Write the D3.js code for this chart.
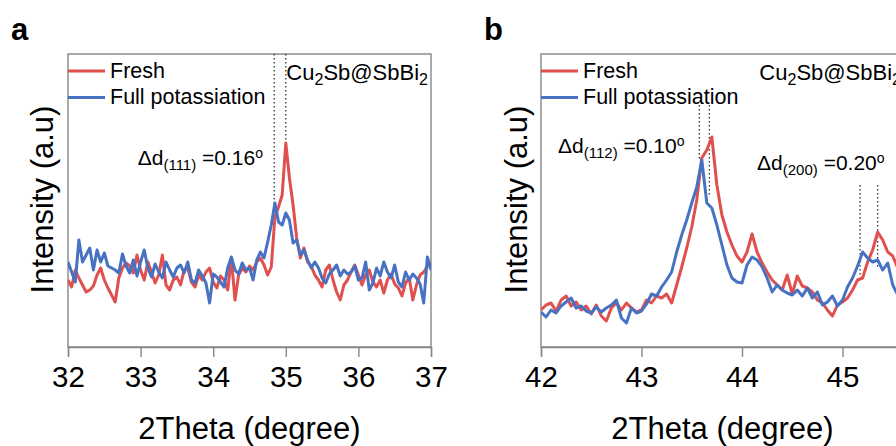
<!DOCTYPE html>
<html>
<head>
<meta charset="utf-8">
<script src="https://cdn.jsdelivr.net/npm/d3@7"></script>
<style>
  body { margin: 0; background: #fff; }
  svg { display: block; font-family: "Liberation Sans", Arial, sans-serif; }
</style>
</head>
<body>
<div id="chart"></div>
<script>
// 2Theta scans, sampled every 0.05 degree
const stepDeg = 0.05;

// panel a: 32 - 37 degree
const startA = 32;
const freshA = [
    67, 60, 77, 69, 62, 55, 57, 61, 72, 79,
    67, 59, 52, 45, 69, 79, 84, 81, 74, 92,
    77, 67, 85, 75, 64, 72, 92, 62, 57, 67,
    70, 62, 77, 79, 65, 60, 72, 67, 75, 79,
    65, 59, 71, 67, 57, 89, 47, 72, 79, 75,
    81, 77, 85, 89, 82, 72, 80, 130, 140, 152,
    204, 169, 142, 109, 89, 99, 85, 81, 72, 67,
    60, 77, 82, 67, 55, 47, 62, 67, 75, 82,
    72, 62, 72, 77, 65, 60, 67, 54, 67, 73,
    63, 59, 51, 64, 69, 47, 62, 72, 75, 81,
    85];
const fullA = [
    85, 75, 65, 107, 85, 92, 99, 77, 97, 85,
    94, 81, 79, 77, 74, 93, 81, 74, 87, 71,
    85, 97, 79, 70, 83, 75, 69, 85, 77, 70,
    79, 82, 74, 85, 67, 64, 77, 71, 64, 44,
    73, 70, 65, 60, 79, 90, 77, 73, 84, 77,
    79, 67, 87, 95, 89, 105, 122, 144, 125, 122,
    134, 127, 104, 107, 92, 97, 87, 79, 85, 79,
    69, 64, 73, 77, 82, 71, 77, 73, 75, 81,
    67, 69, 85, 57, 64, 79, 71, 85, 75, 69,
    82, 65, 60, 75, 67, 73, 69, 63, 44, 90,
    77];

// panel b: 42 - 45.6 degree
const startB = 42;
const freshB = [
    37, 42, 44, 36, 47, 51, 41, 45, 37, 41,
    33, 42, 31, 26, 39, 44, 37, 44, 39, 35,
    37, 47, 44, 51, 49, 53, 44, 62, 80, 99,
    120, 147, 189, 197, 210, 162, 132, 115, 102, 91,
    85, 95, 113, 95, 84, 75, 67, 62, 57, 72,
    53, 71, 61, 59, 55, 47, 44, 37, 31, 42,
    45, 49, 57, 67, 69, 85, 97, 115, 107, 95,
    91, 79, 72];
const fullB = [
    35, 30, 37, 34, 41, 45, 49, 39, 41, 36,
    34, 40, 35, 39, 42, 47, 29, 24, 39, 34,
    36, 43, 53, 51, 60, 67, 75, 95, 112, 127,
    144, 160, 187, 144, 139, 122, 102, 82, 69, 65,
    64, 82, 90, 87, 80, 69, 55, 62, 57, 54,
    52, 57, 51, 59, 49, 55, 42, 45, 51, 41,
    47, 60, 69, 81, 95, 89, 85, 87, 77, 84,
    62, 52, 57];

const ticksA = [32, 33, 34, 35, 36, 37];
const ticksB = [42, 43, 44, 45];
const seriesNames = ["Fresh", "Full potassiation"];

// dotted peak markers: theta, from/to intensity
const markersA = [
    {theta: 34.84, from: 293, to: 144},
    {theta: 35.00, from: 293, to: 204}];
const markersB = [
    {theta: 43.575, from: 242, to: 187},
    {theta: 43.675, from: 242, to: 150},
    {theta: 45.175, from: 162, to: 70},
    {theta: 45.35, from: 162, to: 80}];

// shift labels: hkl, value, theta/intensity of label start
const shiftsA = [{hkl: "(111)", value: "0.16", theta: 32.96, y: 182}];
const shiftsB = [
    {hkl: "(112)", value: "0.10", theta: 42.17, y: 194},
    {hkl: "(200)", value: "0.20", theta: 44.15, y: 177}];

const red = "#e0504f", blue = "#4772c3", frameColor = "#868686";

const svg = d3.select("#chart").append("svg")
    .attr("width", 896)
    .attr("height", 446);

const toPoints = (start, vals) => vals.map((v, i) => [start + i * stepDeg, v]);

function drawPanel(p) {
    let width = 363, height = 293;
    let g = svg.append("g").attr("transform", "translate(" + p.left + "," + p.top + ")");

    let x = d3.scaleLinear().domain(p.xDomain).range([0, width]);
    let y = d3.scaleLinear().domain([0, 293]).range([height, 0]);

    g.append("clipPath").attr("id", "clip" + p.id)
        .append("rect").attr("width", width).attr("height", height);

    // frame
    g.append("rect")
        .attr("width", width).attr("height", height)
        .attr("fill", "none")
        .attr("stroke", frameColor)
        .attr("stroke-width", 1.4);

    // bottom axis
    let ax = g.append("g")
        .attr("transform", "translate(0," + height + ")")
        .call(d3.axisBottom(x).tickValues(p.ticks).tickSize(10).tickPadding(9).tickFormat(d3.format("d")));
    ax.select(".domain").attr("stroke", frameColor).attr("stroke-width", 1.4);
    ax.selectAll(".tick line").attr("stroke", frameColor).attr("stroke-width", 1.4);
    ax.selectAll(".tick text")
        .attr("fill", "#000")
        .style("font-size", "29.5px")
        .style("font-family", "Liberation Sans, Arial, sans-serif");

    // axis titles
    g.append("text")
        .attr("x", width / 2).attr("y", 385)
        .attr("text-anchor", "middle")
        .style("font-size", "31px")
        .text("2Theta (degree)");
    g.append("text")
        .attr("transform", "translate(" + p.yTitleX + "," + (height / 2 - 1) + ") rotate(-90)")
        .attr("text-anchor", "middle")
        .style("font-size", "31px")
        .text("Intensity (a.u)");

    // panel letter
    svg.append("text")
        .attr("x", p.letterX).attr("y", 40)
        .style("font-size", "31px").style("font-weight", "bold")
        .text(p.letter);

    // dotted markers
    g.selectAll(".marker")
        .data(p.markers)
        .enter().append("line")
        .attr("x1", d => x(d.theta)).attr("x2", d => x(d.theta))
        .attr("y1", d => y(d.from)).attr("y2", d => y(d.to))
        .attr("stroke", "#222")
        .attr("stroke-width", 1.2)
        .attr("stroke-dasharray", "1.5,2.5");

    // curves
    let line = d3.line().x(d => x(d[0])).y(d => y(d[1]));
    let curves = g.append("g").attr("clip-path", "url(#clip" + p.id + ")");
    [[p.fresh, red], [p.full, blue]].forEach(([vals, c]) => {
        curves.append("path")
            .datum(toPoints(p.xDomain[0], vals))
            .attr("d", line)
            .attr("fill", "none")
            .attr("stroke", c)
            .attr("stroke-width", 3)
            .attr("stroke-linejoin", "round");
    });

    // legend
    let leg = g.append("g");
    seriesNames.forEach((name, i) => {
        leg.append("line")
            .attr("x1", 0).attr("x2", 37)
            .attr("y1", 17 + i * 26.5).attr("y2", 17 + i * 26.5)
            .attr("stroke", i ? blue : red)
            .attr("stroke-width", 3);
        leg.append("text")
            .attr("x", 42).attr("y", 24 + i * 26)
            .style("font-size", "21.5px")
            .text(name);
    });

    // sample name
    let sample = g.append("text")
        .attr("x", width - 3).attr("y", 26)
        .attr("text-anchor", "end")
        .style("font-size", "22px");
    sample.append("tspan").text("Cu");
    sample.append("tspan").attr("dy", 5).style("font-size", "16px").text("2");
    sample.append("tspan").attr("dy", -5).text("Sb@SbBi");
    sample.append("tspan").attr("dy", 5).style("font-size", "16px").text("2");

    // shift labels
    p.shifts.forEach(s => {
        let t = g.append("text")
            .attr("x", x(s.theta)).attr("y", y(s.y))
            .style("font-size", "21px");
        t.append("tspan").text("\u0394d");
        t.append("tspan").attr("dy", 5).style("font-size", "15px").text(s.hkl);
        t.append("tspan").attr("dy", -5).text(" =" + s.value);
        t.append("tspan").attr("dy", -7).style("font-size", "14px").text("o");
    });
}

drawPanel({id: "a", letter: "a", letterX: 11, left: 68, top: 54, xDomain: [startA, 37],
    ticks: ticksA, fresh: freshA, full: fullA, markers: markersA, shifts: shiftsA, yTitleX: -15});
drawPanel({id: "b", letter: "b", letterX: 484, left: 541, top: 54, xDomain: [startB, 42 + 363 / 100.5],
    ticks: ticksB, fresh: freshB, full: fullB, markers: markersB, shifts: shiftsB, yTitleX: -14});
</script>
</body>
</html>
